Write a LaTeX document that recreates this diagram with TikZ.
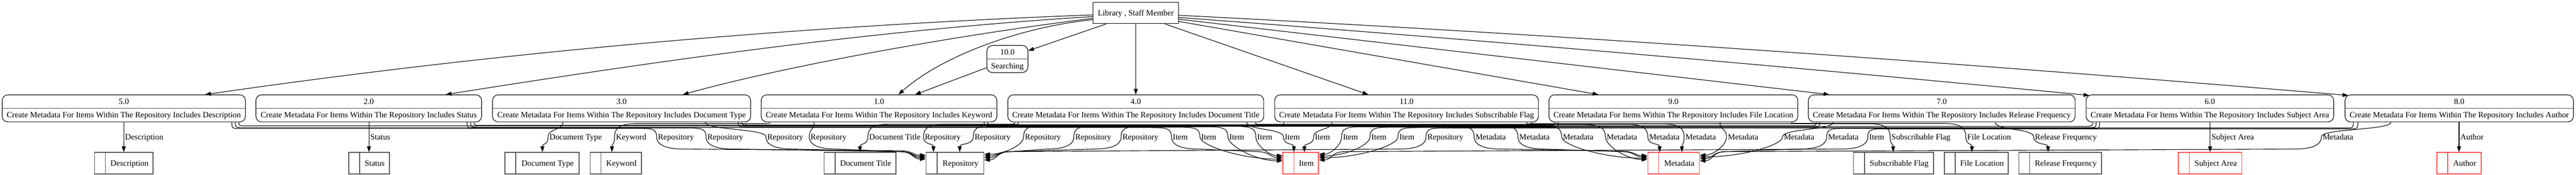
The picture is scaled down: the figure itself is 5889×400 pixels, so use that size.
\documentclass[tikz,border=0pt]{standalone}
\usepackage{fontspec}
\setmainfont{Liberation Serif}
\usetikzlibrary{arrows.meta}
\definecolor{dgray}{RGB}{85,85,85}
\definecolor{sred}{RGB}{255,77,77}
\newcommand\dfont{\fontsize{18.67pt}{22pt}\selectfont}
\newcounter{flowc}
\tikzset{
  txt/.style={font=\dfont, inner sep=0pt, text height=12.4pt, text depth=0pt},
  lbl/.style={txt, anchor=west},
  procbox/.style={draw=black, line width=1.33pt, rounded corners=13pt, minimum height=62pt, inner sep=0pt},
  libbox/.style={draw=black, line width=1.5pt, minimum width=195pt, minimum height=49pt, inner sep=0pt, font=\dfont, text height=12.4pt, text depth=0pt},
  divline/.style={draw=dgray, line width=2pt},
  storebox/.style={line width=2pt, minimum height=49pt, inner sep=0pt},
  flowline/.style={line width=1.33pt, -{Triangle[length=13pt,width=9pt]}},
}
\newcommand\procnode[5]{%
  \pgfmathsetmacro\pnW{#3-#2}%
  \pgfmathsetmacro\pnX{(#2+#3)/2}%
  \expandafter\xdef\csname cx#1\endcsname{\pnX}%
  \node[procbox, minimum width=\pnW pt] (#1) at (\pnX,248) {};%
  \draw[divline] (#1.west) -- (#1.east);%
  \node[txt] (#1n) at (\pnX,232.5) {#4};%
  \node[txt] (#1d) at (\pnX,263.5) {#5};%
}
\newcommand\storenode[5]{%
  \pgfmathsetmacro\snW{#3-#2}%
  \pgfmathsetmacro\snX{(#2+#3)/2}%
  \pgfmathsetmacro\snT{(#2+26+#3)/2}%
  \expandafter\xdef\csname cx#1\endcsname{\snX}%
  \expandafter\xdef\csname xa#1\endcsname{#2}%
  \expandafter\xdef\csname xb#1\endcsname{#3}%
  \node[storebox, draw=#5, minimum width=\snW pt] (#1) at (\snX,373.5) {};%
  \draw[draw=#5, line width=2pt] ([xshift=26pt]#1.north west) -- ([xshift=26pt]#1.south west);%
  \node[txt] (#1t) at (\snT,373.5) {#4};%
}
% #1 src node, #2 src x, #3 run y, #4 label x, #5 label, #6 target node, #7 n/w/e, #8 value
\newcommand\flowedge[8]{%
  \stepcounter{flowc}%
  \edef\fwS{\csname cx#1\endcsname}%
  \edef\fwT{\csname cx#6\endcsname}%
  \pgfmathsetmacro\fwL{#4-3}%
  \pgfmathsetmacro\fwDX{#2-\fwS}%
  \pgfmathsetmacro\fwDir{ifthenelse(\fwL>#2,1,-1)}%
  \pgfmathsetmacro\fwDist{abs(\fwL-#2)}%
  \ifdim\fwDist pt<180pt
    \edef\fwHead{.. controls (#2,298) and (\fwL,294) ..}%
  \else
    \pgfmathsetmacro\fwA{#2+\fwDir*20}%
    \pgfmathsetmacro\fwB{\fwL-\fwDir*50}%
    \pgfmathsetmacro\fwC{\fwL-\fwDir*12}%
    \edef\fwHead{.. controls (#2,#3) and (#2,#3) .. (\fwA,#3) -- (\fwB,#3) .. controls (\fwC,#3) and (\fwL,293) ..}%
  \fi
  \if#7n%
    \pgfmathsetmacro\fwTX{#8-\fwT}%
    \edef\fwTail{.. controls (\fwL,333) and (#8,327) .. ([xshift=\fwTX pt]#6.north)}%
  \else
    \if#7w%
      \edef\fwX{\csname xa#6\endcsname}\def\fwAnc{west}%
    \else
      \edef\fwX{\csname xb#6\endcsname}\def\fwAnc{east}%
    \fi
    \pgfmathsetmacro\fwY{373.5-#8}%
    \pgfmathsetmacro\fwE{ifthenelse(\fwX>\fwL,1,-1)}%
    \pgfmathsetmacro\fwD{abs(\fwX-\fwL)}%
    \ifdim\fwD pt<200pt
      \pgfmathsetmacro\fwK{\fwX-\fwE*0.5*\fwD}%
      \edef\fwTail{.. controls (\fwL,333) and (\fwK,#8) .. ([yshift=\fwY pt]#6.\fwAnc)}%
    \else
      \pgfmathsetmacro\fwG{\fwL+\fwE*25}%
      \pgfmathsetmacro\fwH{\fwL+\fwE*60}%
      \pgfmathsetmacro\fwM{\fwX-\fwE*60}%
      \pgfmathsetmacro\fwN{\fwX-\fwE*30}%
      \pgfmathsetmacro\fwYS{min(#8-10,347)}%
      \edef\fwTail{.. controls (\fwL,333) and (\fwG,341) .. (\fwH,341) -- (\fwM,\fwYS) .. controls (\fwN,\fwYS) and (\fwN,#8) .. ([yshift=\fwY pt]#6.\fwAnc)}%
    \fi
  \fi
  \edef\fwCmd{\noexpand\draw[flowline] ([xshift=\fwDX pt]#1.south) \fwHead\space(\fwL,313) \fwTail;}%
  \fwCmd
  \node[lbl] (lab\arabic{flowc}) at (#4,313) {#5};%
}
\begin{document}
\begin{tikzpicture}[x=1pt,y=-1pt]
\fill[white] (0,0) rectangle (5889,400);
\useasboundingbox (0,0) rectangle (5889,400);

% external entity
\node[libbox] (lib) at (2596.5,29.5) {Library , Staff Member};

% searching process
\node[procbox, minimum width=94pt] (p10) at (2303,135) {};
\draw[divline] (p10.west) -- (p10.east);
\node[txt] (p10n) at (2303,119.5) {10.0};
\node[txt] (p10d) at (2303,150.5) {Searching};

% processes
\procnode{p5}{5}{561}{5.0}{Create Metadata For Items Within The Repository Includes Description}
\procnode{p2}{585}{1101}{2.0}{Create Metadata For Items Within The Repository Includes Status}
\procnode{p3}{1126}{1716}{3.0}{Create Metadata For Items Within The Repository Includes Document Type}
\procnode{p1}{1740}{2279}{1.0}{Create Metadata For Items Within The Repository Includes Keyword}
\procnode{p4}{2304}{2889}{4.0}{Create Metadata For Items Within The Repository Includes Document Title}
\procnode{p11}{2914}{3517}{11.0}{Create Metadata For Items Within The Repository Includes Subscribable Flag}
\procnode{p9}{3541}{4110}{9.0}{Create Metadata For Items Within The Repository Includes File Location}
\procnode{p7}{4134}{4744}{7.0}{Create Metadata For Items Within The Repository Includes Release Frequency}
\procnode{p6}{4769}{5335}{6.0}{Create Metadata For Items Within The Repository Includes Subject Area}
\procnode{p8}{5361}{5883}{8.0}{Create Metadata For Items Within The Repository Includes Author}

% data stores
\storenode{sDesc}{216}{350}{Description}{dgray}
\storenode{sStatus}{797}{890}{Status}{dgray}
\storenode{sDocType}{1154}{1324}{Document Type}{dgray}
\storenode{sKeyword}{1349}{1466}{Keyword}{dgray}
\storenode{sDocTitle}{1884}{2048}{Document Title}{dgray}
\storenode{sRepo}{2117}{2249}{Repository}{dgray}
\storenode{sItem}{2933}{3014}{Item}{sred}
\storenode{sMeta}{3767}{3885}{Metadata}{sred}
\storenode{sSub}{4237}{4420}{Subscribable Flag}{dgray}
\storenode{sFile}{4445}{4591}{File Location}{dgray}
\storenode{sRel}{4615}{4804}{Release Frequency}{dgray}
\storenode{sSubj}{4980}{5125}{Subject Area}{sred}
\storenode{sAuth}{5571}{5672}{Author}{sred}

% top flows
\draw[flowline] ([yshift=-4.5pt]lib.west) .. controls (1819,60) and (1149,118) .. ([xshift=186pt]p5.north);
\draw[flowline] ([yshift=-8.5pt]lib.west) .. controls (2006,68) and (1512,138) .. ([xshift=176pt]p2.north);
\draw[flowline] ([yshift=-12.5pt]lib.west) .. controls (2190,80) and (1800,150) .. ([xshift=140pt]p3.north);
\draw[flowline] ([yshift=-15.5pt]lib.west) .. controls (2330,62) and (2150,130) .. ([xshift=44.5pt]p1.north);
\draw[flowline] ([xshift=-67.5pt]lib.south) -- ([yshift=19pt]p10.east);
\draw[flowline] ([yshift=-20pt]p10.west) -- ([xshift=82.5pt]p1.north);
\draw[flowline] (lib.south) -- (p4.north);
\draw[flowline] ([xshift=66.5pt]lib.south) -- ([xshift=-87.5pt]p11.north);
\draw[flowline] ([yshift=-19.5pt]lib.east) -- ([xshift=-171.5pt]p9.north);
\draw[flowline] ([yshift=-14.5pt]lib.east) -- ([xshift=-257pt]p7.north);
\draw[flowline] ([yshift=-10.5pt]lib.east) .. controls (3383,91) and (4073,151) .. ([xshift=8pt,yshift=-2pt]p6.north west);
\draw[flowline] ([yshift=-5.5pt]lib.east) .. controls (3582,80) and (4470,143) .. ([xshift=8pt,yshift=-2pt]p8.north west);

% own stores
\flowedge{p5}{283}{0}{286}{Description}{sDesc}{n}{283}
\flowedge{p2}{843.5}{0}{846.5}{Status}{sStatus}{n}{843.5}
\flowedge{p3}{1287}{0}{1256}{Document Type}{sDocType}{n}{1240}
\flowedge{p1}{1760}{283}{1408}{Keyword}{sKeyword}{n}{1399}
\flowedge{p4}{2320}{284}{1987}{Document Title}{sDocTitle}{n}{1966}
\flowedge{p11}{3500}{283}{4324}{Subscribable Flag}{sSub}{n}{4328}
\flowedge{p9}{4095}{282.4}{4497}{File Location}{sFile}{n}{4508}
\flowedge{p7}{4561}{0}{4652}{Release Frequency}{sRel}{n}{4682}
\flowedge{p6}{5052.5}{0}{5055.5}{Subject Area}{sSubj}{n}{5052.5}
\flowedge{p8}{5621.5}{0}{5624.5}{Author}{sAuth}{n}{5621.5}

% repository
\flowedge{p5}{530}{294}{1504}{Repository}{sRepo}{w}{355}
\flowedge{p2}{1068}{293}{1617}{Repository}{sRepo}{w}{358}
\flowedge{p3}{1612}{0}{1754}{Repository}{sRepo}{w}{361}
\flowedge{p1}{1861}{0}{1853}{Repository}{sRepo}{w}{364}
\flowedge{p4}{2328}{285}{2114}{Repository}{sRepo}{n}{2134}
\flowedge{p11}{2935}{286}{2228}{Repository}{sRepo}{n}{2194}
\flowedge{p9}{3555}{287}{2343}{Repository}{sRepo}{e}{353}
\flowedge{p7}{4152}{288}{2458}{Repository}{sRepo}{e}{357}
\flowedge{p6}{4784}{289}{2566}{Repository}{sRepo}{e}{361}
\flowedge{p8}{5380}{293}{3263}{Repository}{sRepo}{e}{366}

% item
\flowedge{p5}{538}{292}{2681}{Item}{sItem}{w}{360}
\flowedge{p2}{1076}{291}{2746}{Item}{sItem}{w}{364}
\flowedge{p3}{1688}{290}{2810}{Item}{sItem}{w}{368}
\flowedge{p1}{2250}{289}{2874}{Item}{sItem}{w}{356}
\flowedge{p4}{2850}{0}{2937}{Item}{sItem}{n}{2958}
\flowedge{p11}{3045}{0}{3006}{Item}{sItem}{n}{2982}
\flowedge{p9}{3562}{290}{3070}{Item}{sItem}{e}{353}
\flowedge{p7}{4160}{291}{3135}{Item}{sItem}{e}{357}
\flowedge{p6}{4792}{292}{3199}{Item}{sItem}{e}{361}
\flowedge{p8}{5390}{295}{4273}{Item}{sItem}{e}{366}

% metadata
\flowedge{p5}{546}{288}{3373}{Metadata}{sMeta}{w}{356}
\flowedge{p2}{1084}{287}{3473}{Metadata}{sMeta}{w}{359}
\flowedge{p3}{1696}{286}{3573}{Metadata}{sMeta}{w}{362}
\flowedge{p1}{2258}{285.2}{3673}{Metadata}{sMeta}{w}{365}
\flowedge{p4}{2870}{284.4}{3770}{Metadata}{sMeta}{n}{3794}
\flowedge{p11}{3490}{283.6}{3853}{Metadata}{sMeta}{n}{3845}
\flowedge{p9}{3932}{0}{3950}{Metadata}{sMeta}{e}{355}
\flowedge{p7}{4191}{0}{4078}{Metadata}{sMeta}{e}{359}
\flowedge{p6}{4800}{294}{4179}{Metadata}{sMeta}{e}{363}
\flowedge{p8}{5466}{0}{5310}{Metadata}{sMeta}{e}{368}
\end{tikzpicture}
\end{document}
